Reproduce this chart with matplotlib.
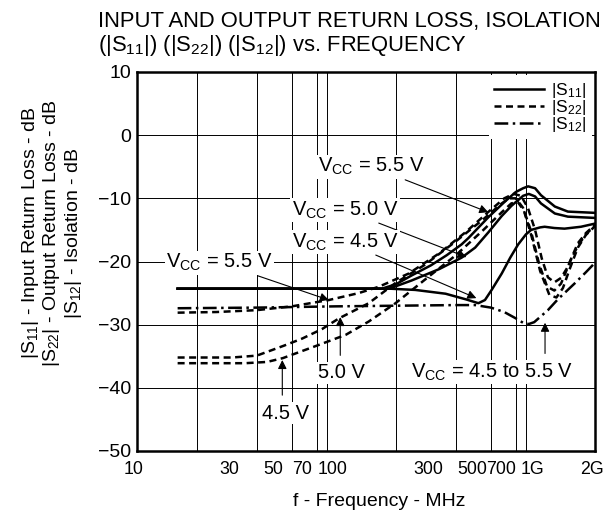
import numpy as np
import matplotlib.pyplot as plt
from matplotlib.transforms import ScaledTranslation

plt.rcParams['font.family'] = ['Liberation Sans', 'DejaVu Sans']
plt.rcParams['mathtext.fontset'] = 'custom'
plt.rcParams['mathtext.rm'] = 'Liberation Sans'
plt.rcParams['mathtext.default'] = 'regular'

# |S11| input return loss (f in MHz, dB) for Vcc = 5.5 / 5.0 / 4.5 V
s11_55_f = [16, 170, 200, 240, 300, 360, 427, 462, 582, 700, 800, 871, 923, 1000, 1070, 1257, 1462, 2000]
s11_55_db = [-24.3, -24.3, -23.6, -22.2, -20.6, -19.0, -17.3, -16.3, -13.0, -10.6, -9.0, -8.4, -8.1, -8.4, -9.5, -11.3, -12.1, -12.3]
s11_50_f = [16, 185, 240, 330, 427, 500, 582, 680, 760, 871, 930, 1000, 1070, 1257, 1462, 2000]
s11_50_db = [-24.3, -24.3, -23.0, -21.2, -19.4, -17.8, -15.4, -12.8, -11.2, -9.6, -9.3, -9.7, -10.8, -12.4, -12.9, -13.1]
s11_45_f = [16, 185, 250, 355, 450, 519, 560, 605, 680, 750, 822, 900, 955, 1060, 1117, 1250, 1406, 1700, 2000]
s11_45_db = [-24.3, -24.3, -24.5, -25.1, -26.0, -26.6, -26.1, -24.5, -21.9, -19.4, -17.3, -15.7, -15.0, -14.6, -14.5, -14.7, -14.8, -14.5, -14.0]

# |S22| output return loss
s22_55_f = [16, 25, 40, 60, 92, 130, 164, 232, 330, 450, 580, 700, 780, 850, 920, 1000, 1080, 1160, 1250, 1350, 1450, 1640, 1800, 2000]
s22_55_db = [-28.1, -28.0, -27.7, -27.1, -26.1, -25.0, -24.0, -21.9, -18.7, -15.3, -12.2, -10.0, -9.3, -9.6, -11.5, -15.0, -19.5, -22.5, -23.3, -22.6, -21.0, -17.1, -15.5, -14.2]
s22_50_f = [16, 30, 40, 46, 55, 67.6, 85, 103.5, 146, 199, 280, 400, 550, 680, 740, 800, 870, 950, 1050, 1150, 1250, 1350, 1500, 1640, 1800, 2000]
s22_50_db = [-35.2, -35.2, -34.9, -34.2, -33.3, -32.2, -30.7, -29.0, -26.6, -23.4, -20.5, -16.8, -13.3, -10.8, -10.0, -10.0, -11.5, -15.0, -20.5, -24.0, -24.6, -23.5, -20.0, -17.5, -15.7, -14.3]
s22_45_f = [16, 35, 45, 54, 82, 112, 146, 199, 292, 400, 550, 680, 760, 820, 880, 960, 1060, 1180, 1280, 1380, 1500, 1640, 1800, 2000]
s22_45_db = [-36.1, -36.1, -35.9, -35.3, -33.2, -31.6, -29.5, -26.6, -22.4, -19.0, -15.0, -12.2, -10.8, -10.6, -12.0, -16.0, -21.5, -25.3, -25.7, -24.2, -21.0, -17.8, -15.8, -14.4]

# |S12| isolation (Vcc = 4.5 to 5.5 V)
s12_f = [16, 40, 100, 200, 400, 500, 600, 700, 800, 870, 930, 990, 1160, 1300, 1577, 1800, 2000]
s12_db = [-27.4, -27.3, -27.1, -27.0, -26.9, -26.9, -27.3, -28.0, -29.0, -29.7, -29.9, -29.6, -27.7, -26.0, -23.5, -21.7, -20.2]

xtick_pos = [10, 30, 50, 70, 100, 300, 500, 700, 1000, 2000]
xtick_lab = ['10', '30', '50', '70', '100', '300', '500', '700', '1G', '2G']
xgrid = [20, 30, 40, 50, 60, 70, 80, 90, 100, 200, 300, 400, 500, 600, 700, 800, 900, 1000]
yticks = [10, 0, -10, -20, -30, -40, -50]

fig = plt.figure(figsize=(6.13, 5.18), dpi=100)
ax = fig.add_axes([137 / 613, 67 / 518, 458 / 613, 379 / 518])

lw = 1.8
dash = (0, (2.8, 1.8))
dashdot = (0, (5.5, 1.8, 1.0, 1.8))

ax.plot(s11_55_f, s11_55_db, 'k-', lw=lw, zorder=3)
ax.plot(s11_50_f, s11_50_db, 'k-', lw=lw, zorder=3)
ax.plot(s11_45_f, s11_45_db, 'k-', lw=lw, zorder=3)
ax.plot(s22_55_f, s22_55_db, color='k', ls=dash, lw=lw, zorder=3)
ax.plot(s22_50_f, s22_50_db, color='k', ls=dash, lw=lw, zorder=3)
ax.plot(s22_45_f, s22_45_db, color='k', ls=dash, lw=lw, zorder=3)
ax.plot(s12_f, s12_db, color='k', ls=dashdot, lw=lw, zorder=3)

ax.set_xscale('log')
ax.set_xlim(10, 2000)
ax.set_ylim(-50, 10)
ax.set_xticks(xtick_pos)
ax.set_xticklabels(xtick_lab)
ax.set_xticks(xgrid, minor=True)
ax.set_xticklabels([], minor=True)
ax.set_yticks(yticks)
ax.tick_params(which='both', length=0, labelsize=14, pad=4)
ax.tick_params(axis='x', labelsize=12.8, pad=7)
for lab in ax.get_xticklabels():
    lab.set_transform(lab.get_transform() + ScaledTranslation(-3 / 100, 0, fig.dpi_scale_trans))
ax.grid(True, which='minor', axis='x', color='k', lw=0.7)
ax.grid(True, which='major', axis='y', color='k', lw=0.7)
ax.grid(False, which='major', axis='x')
for s in ax.spines.values():
    s.set_linewidth(1.8)

# legend
h1, = ax.plot([], [], 'k-', lw=lw)
h2, = ax.plot([], [], color='k', ls=dash, lw=lw)
h3, = ax.plot([], [], color='k', ls=dashdot, lw=lw)
leg = ax.legend([h1, h2, h3], ['|S$_{11}$|', '|S$_{22}$|', '|S$_{12}$|'],
                loc='upper right', fontsize=12.5, frameon=True, fancybox=False,
                edgecolor='none', facecolor='white', framealpha=1,
                handlelength=2.9, handletextpad=0.4, labelspacing=-0.1,
                borderpad=0.3, borderaxespad=0.2)
leg.set_zorder(5)

box = dict(facecolor='white', edgecolor='none', pad=1.0)
arrow = dict(arrowstyle='-|>', color='k', lw=0.8, mutation_scale=13, shrinkA=2, shrinkB=0)
fs = 14.5

ax.annotate('V$_{CC}$ = 5.5 V', xy=(582, -12.2), xytext=(151, -5.0), fontsize=fs,
            ha='center', va='center', bbox=box, arrowprops=arrow, zorder=4)
ax.annotate('V$_{CC}$ = 5.0 V', xy=(452, -19.3), xytext=(111, -11.85), fontsize=fs,
            ha='center', va='center', bbox=box, arrowprops=arrow, zorder=4)
ax.annotate('V$_{CC}$ = 4.5 V', xy=(507, -25.8), xytext=(111, -16.9), fontsize=fs,
            ha='center', va='center', bbox=box, arrowprops=arrow, zorder=4)
ax.annotate('V$_{CC}$ = 5.5 V', xy=(92, -26.1), xytext=(26, -20.2), fontsize=fs,
            ha='center', va='center', bbox=box, arrowprops=arrow, zorder=4)

ax.text(107, -37.65, '5.0 V', fontsize=fs, ha='center', va='center', bbox=box, zorder=4)
ax.annotate('', xy=(105, -28.8), xytext=(105, -35.3), arrowprops=arrow, zorder=4)
ax.text(55.6, -44.0, '4.5 V', fontsize=fs, ha='center', va='center', bbox=box, zorder=4)
ax.annotate('', xy=(53.7, -35.6), xytext=(53.7, -41.6), arrowprops=arrow, zorder=4)
ax.text(610, -37.5, 'V$_{CC}$ = 4.5 to 5.5 V', fontsize=fs, ha='center', va='center', bbox=box, zorder=4)
ax.annotate('', xy=(1122, -29.7), xytext=(1122, -35.0), arrowprops=arrow, zorder=4)

fig.text(98 / 613, 1 - 22 / 518, 'INPUT AND OUTPUT RETURN LOSS, ISOLATION', fontsize=15.8, ha='left', va='center')
fig.text(98 / 613, 1 - 46 / 518, '(|S$_{11}$|) (|S$_{22}$|) (|S$_{12}$|) vs. FREQUENCY', fontsize=15.8, ha='left', va='center')

fig.text(52 / 613, 1 - 233 / 518,
         '|S$_{11}$| - Input Return Loss - dB\n|S$_{22}$| - Output Return Loss - dB\n|S$_{12}$| - Isolation - dB',
         rotation=90, fontsize=14, ha='center', va='center', multialignment='center', linespacing=1.05)
fig.text(379 / 613, 1 - 502 / 518, 'f - Frequency - MHz', fontsize=14, ha='center', va='center')

fig.savefig('out.png', dpi=100)
